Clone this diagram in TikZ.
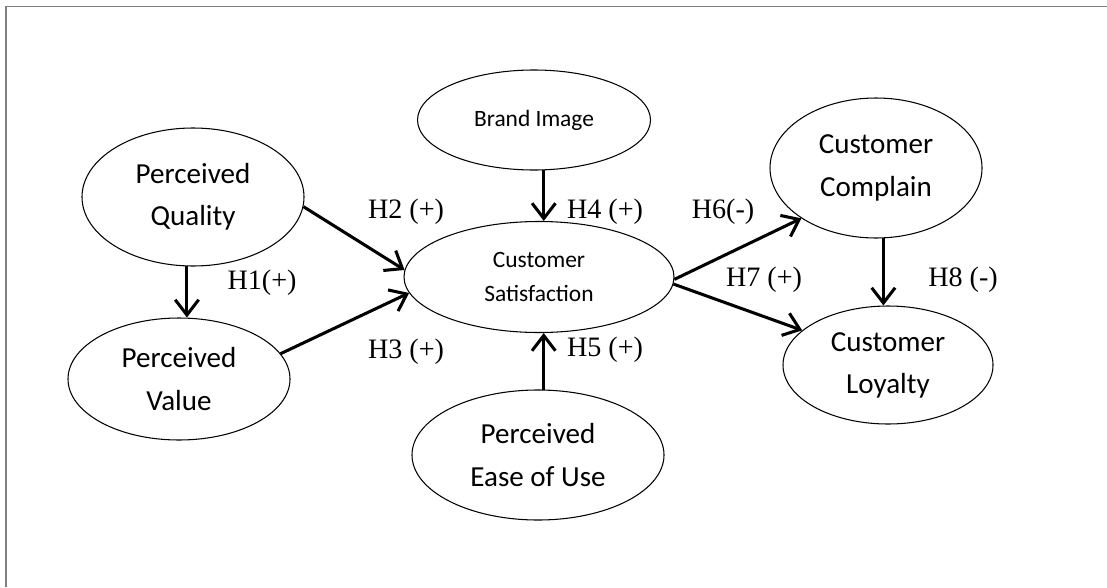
\documentclass[tikz,border=0pt]{standalone}
\usepackage{fontspec}
\setmainfont{Liberation Serif}
\newfontfamily\calibri{Carlito}
\usepackage{tikz}
\usetikzlibrary{arrows.meta, shapes.geometric, calc}

\begin{document}
\begin{tikzpicture}[x=0.015cm, y=-0.015cm,
    construct/.style={draw, ellipse, line width=0.45pt, inner sep=0pt, align=center,
        font=\calibri\fontsize{12.4}{18}\selectfont},
    small/.style={font=\calibri\fontsize{10}{14.5}\selectfont},
    hyp/.style={-{Straight Barb[length=6.5pt,width=10pt]}, line width=1.3pt},
    hlabel/.style={font=\fontsize{12}{14}\selectfont, inner sep=0pt}]
                                \useasboundingbox (0, 0) rectangle (1107, 587);
                                \draw[gray, line width=0.85pt]
                                (6, 587) -- (6, 6.5) -- (1107, 6.5);

                                \node[construct, small, minimum width=3.495cm, minimum height=1.5cm] (brand) at (534, 120) {Brand Image};
                                \node[construct, minimum width=3.33cm, minimum height=2.07cm] (pq) at (193, 197) {Perceived\\Quality};
                                \node[construct, minimum width=3.33cm, minimum height=1.83cm] (pv) at (179, 379) {Perceived\\Value};
                                \node[construct, small, minimum width=4.05cm, minimum height=1.665cm] (cs) at (539, 277) {Customer\\Satisfaction};
                                \node[construct, minimum width=3.78cm, minimum height=1.95cm] (peu) at (538, 455) {Perceived\\Ease of Use};
                                \node[construct, minimum width=3.18cm, minimum height=2.1cm] (cc) at (876, 168) {Customer\\Complain};
                                \node[construct, minimum width=3.15cm, minimum height=1.77cm] (cl) at (888, 365) {Customer\\Loyalty};

                                \node[hlabel] (h1) at (262, 283) {H1(+)};
                                \node[hlabel] (h2) at (406, 212) {H2 (+)};
                                \node[hlabel] (h3) at (406, 352) {H3 (+)};
                                \node[hlabel] (h4) at (605, 212) {H4 (+)};
                                \node[hlabel] (h5) at (605, 350) {H5 (+)};
                                \node[hlabel] (h6) at (723, 212) {H6(-)};
                                \node[hlabel] (h7) at (764, 280) {H7 (+)};
                                \node[hlabel] (h8) at (963, 280) {H8 (-)};

                                \draw
                                (pq.-5) edge[hyp] (cs.177)
                                (pv.14) edge[hyp] (cs.-173)
                                (pq.-95) edge[hyp] (pq.-95 |- pv.north)
                                (brand.-79) edge[hyp] (brand.-79 |- cs.north)
                                (peu.85) edge[hyp] (peu.85 |- cs.south)
                                (cs.-1) edge[hyp] (cc.-146)
                                (cs.-3) edge[hyp] (cl.158)
                                (cc.-84.5) edge[hyp] (cc.-84.5 |- cl.north);
                            \end{tikzpicture}
\end{document}
